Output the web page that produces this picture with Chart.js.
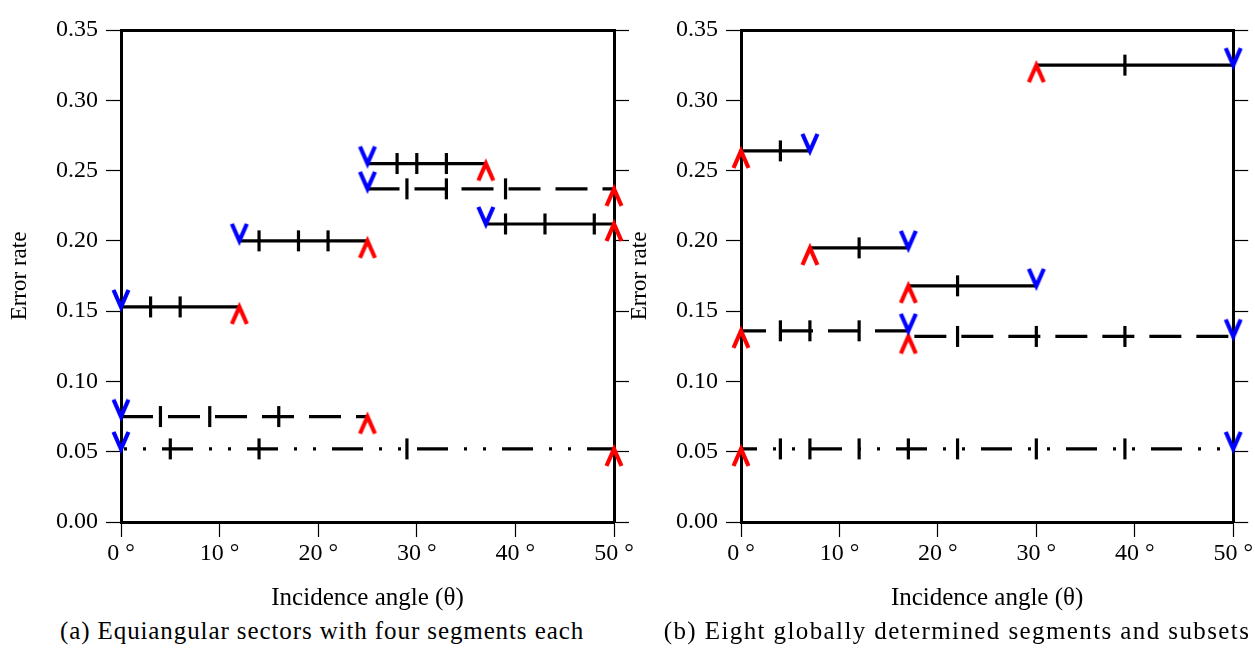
<!DOCTYPE html>
<html>
<head>
<meta charset="utf-8">
<script src="https://cdn.jsdelivr.net/npm/chart.js@4/dist/chart.umd.min.js"></script>
<style>
  body { margin: 0; width: 1255px; height: 648px; position: relative; background: #fff; overflow: hidden; }
  .panel { position: absolute; top: 0; }
  .caption { position: absolute; top: 617px; font-family: "Liberation Serif", serif; font-size: 25px; letter-spacing: 0.9px; color: #000; white-space: nowrap; transform: translateX(-50%); }
</style>
</head>
<body>
<div class="panel" style="left:0"><canvas id="sectors" width="640" height="615"></canvas></div>
<div class="panel" style="left:620px"><canvas id="global" width="635" height="615"></canvas></div>
<div class="caption" style="left:322px">(a) Equiangular sectors with four segments each</div>
<div class="caption" style="left:957px;letter-spacing:1.4px">(b) Eight globally determined segments and subsets</div>
<script>
// ---- axis ticks ----
const angleTicks = [0, 10, 20, 30, 40, 50];
const rateTicks = [0, 0.05, 0.10, 0.15, 0.20, 0.25, 0.30, 0.35];

// ---- (a) equiangular sectors ----
// solid: four segments
const secSolidFrom = [0, 12, 25, 37];
const secSolidTo = [12, 25, 37, 50];
const secSolidRate = [0.153, 0.200, 0.255, 0.212];
const secSolidMarks = [[3, 6], [14, 18, 21], [28, 30, 33], [39, 43, 48]];
// dashed: two segments
const secDashFrom = [0, 25];
const secDashTo = [25, 50];
const secDashRate = [0.075, 0.237];
const secDashMarks = [[4, 9, 16], [29, 33, 39]];
// dash-dot: one segment
const secDotFrom = [0];
const secDotTo = [50];
const secDotRate = [0.052];
const secDotMarks = [[5, 14, 29]];

// ---- (b) globally determined segments ----
const gloSolidFrom = [0, 7, 17, 30];
const gloSolidTo = [7, 17, 30, 50];
const gloSolidRate = [0.264, 0.195, 0.168, 0.325];
const gloSolidMarks = [[4], [12], [22], [39]];
const gloDashFrom = [0, 17];
const gloDashTo = [17, 50];
const gloDashRate = [0.136, 0.132];
const gloDashMarks = [[4, 7, 12], [22, 30, 39]];
const gloDotFrom = [0];
const gloDotTo = [50];
const gloDotRate = [0.052];
const gloDotMarks = [[4, 7, 12, 17, 22, 30, 39]];

const SERIF = '"Liberation Serif", "Times New Roman", serif';
const DASH = [32, 15];
const DASH_DOT = [31, 16, 3, 16, 3, 16];

// open chevron, tip sits on the point (canvas centre)
function chevron(color, up) {
  const c = document.createElement('canvas');
  c.width = 22; c.height = 40;
  const g = c.getContext('2d');
  g.strokeStyle = color; g.lineWidth = 4.2; g.lineJoin = 'miter';
  g.beginPath();
  if (up) { g.moveTo(3.5, 37); g.lineTo(11, 20); g.lineTo(18.5, 37); }
  else { g.moveTo(3.5, 3); g.lineTo(11, 20); g.lineTo(18.5, 3); }
  g.stroke();
  return c;
}
const blueV = chevron('#0000ff', false);
const redHat = chevron('#ff0000', true);

// one dataset per segment; inner points are drawn as short vertical bars
function segments(from, to, rate, marks, dash, dashOffsets, startMark, endMark) {
  return from.map((x0, i) => {
    const xs = [x0, ...marks[i], to[i]];
    const last = xs.length - 1;
    const isEnd = c => c.dataIndex === 0 || c.dataIndex === last;
    return {
      data: xs.map(x => ({ x, y: rate[i] })),
      showLine: true,
      borderColor: '#000',
      borderWidth: 3.2,
      borderDash: dash,
      borderDashOffset: dashOffsets[i] || 0,
      pointStyle: c => c.dataIndex === 0 ? startMark : (c.dataIndex === last ? endMark : 'line'),
      pointRotation: c => isEnd(c) ? 0 : 90,
      pointRadius: c => isEnd(c) ? 9 : 10.5,
      pointBorderColor: '#000',
      pointBorderWidth: 3.2,
      clip: false
    };
  });
}

function makeChart(id, datasets, rightWidth) {
  const tickFont = { family: SERIF, size: 24 };
  const gridOpts = { drawOnChartArea: false, tickLength: 15, tickColor: '#000', tickWidth: 1.2 };
  return new Chart(document.getElementById(id), {
    type: 'scatter',
    data: { datasets },
    options: {
      responsive: false,
      animation: false,
      layout: { padding: 0 },
      plugins: { legend: { display: false }, tooltip: { enabled: false } },
      scales: {
        x: {
          type: 'linear', position: 'bottom', min: 0, max: 50,
          afterBuildTicks: s => { s.ticks = angleTicks.map(value => ({ value })); },
          ticks: { callback: v => v + ' °', color: '#000', font: tickFont, padding: 2, maxRotation: 0, autoSkip: false },
          grid: gridOpts,
          border: { color: '#000', width: 3 },
          title: { display: true, text: 'Incidence angle (θ)', color: '#000', font: { family: SERIF, size: 25 }, padding: { bottom: 2 } },
          afterFit: s => { s.height = 93; }
        },
        xTop: {
          type: 'linear', position: 'top', min: 0, max: 50,
          ticks: { display: false },
          grid: { display: false, drawTicks: false },
          border: { color: '#000', width: 3 },
          afterFit: s => { s.height = 30; }
        },
        y: {
          type: 'linear', position: 'left', min: 0, max: 0.35,
          afterBuildTicks: s => { s.ticks = rateTicks.map(value => ({ value })); },
          ticks: { callback: v => v.toFixed(2), color: '#000', font: tickFont, padding: 8 },
          grid: gridOpts,
          border: { color: '#000', width: 3 },
          title: { display: true, text: 'Error rate', color: '#000', font: { family: SERIF, size: 23 }, padding: { top: 6 } },
          afterFit: s => { s.width = 121; }
        },
        yRight: {
          type: 'linear', position: 'right', min: 0, max: 0.35,
          afterBuildTicks: s => { s.ticks = rateTicks.map(value => ({ value })); },
          ticks: { display: false },
          grid: gridOpts,
          border: { color: '#000', width: 3 },
          afterFit: s => { s.width = rightWidth; }
        }
      }
    }
  });
}

makeChart('sectors', [
  ...segments(secSolidFrom, secSolidTo, secSolidRate, secSolidMarks, [], [], blueV, redHat),
  ...segments(secDashFrom, secDashTo, secDashRate, secDashMarks, DASH, [0, 0], blueV, redHat),
  ...segments(secDotFrom, secDotTo, secDotRate, secDotMarks, DASH_DOT, [44], blueV, redHat)
], 26);

makeChart('global', [
  ...segments(gloSolidFrom, gloSolidTo, gloSolidRate, gloSolidMarks, [], [], redHat, blueV),
  ...segments(gloDashFrom, gloDashTo, gloDashRate, gloDashMarks, DASH, [7, 41], redHat, blueV),
  ...segments(gloDotFrom, gloDotTo, gloDotRate, gloDotMarks, DASH_DOT, [15], redHat, blueV)
], 20);
</script>
</body>
</html>
